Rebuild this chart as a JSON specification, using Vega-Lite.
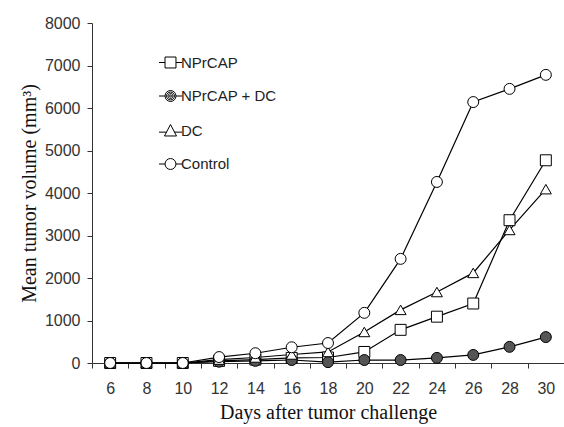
{
  "$schema": "https://vega.github.io/schema/vega-lite/v6.json",
  "autosize": "none",
  "width": 472,
  "height": 340,
  "padding": {"left": 92, "top": 23, "right": 0, "bottom": 64},
  "background": "white",
  "config": {"view": {"stroke": null}},
  "data": {"values": [
    {"day": 6, "series": "NPrCAP", "v": 0}, {"day": 8, "series": "NPrCAP", "v": 0}, {"day": 10, "series": "NPrCAP", "v": 0},
    {"day": 12, "series": "NPrCAP", "v": 50}, {"day": 14, "series": "NPrCAP", "v": 80}, {"day": 16, "series": "NPrCAP", "v": 120},
    {"day": 18, "series": "NPrCAP", "v": 130}, {"day": 20, "series": "NPrCAP", "v": 260}, {"day": 22, "series": "NPrCAP", "v": 780},
    {"day": 24, "series": "NPrCAP", "v": 1090}, {"day": 26, "series": "NPrCAP", "v": 1400}, {"day": 28, "series": "NPrCAP", "v": 3360},
    {"day": 30, "series": "NPrCAP", "v": 4770},
    {"day": 6, "series": "NPrCAP + DC", "v": 0}, {"day": 8, "series": "NPrCAP + DC", "v": 0}, {"day": 10, "series": "NPrCAP + DC", "v": 0},
    {"day": 12, "series": "NPrCAP + DC", "v": 30}, {"day": 14, "series": "NPrCAP + DC", "v": 50}, {"day": 16, "series": "NPrCAP + DC", "v": 70},
    {"day": 18, "series": "NPrCAP + DC", "v": 20}, {"day": 20, "series": "NPrCAP + DC", "v": 70}, {"day": 22, "series": "NPrCAP + DC", "v": 70},
    {"day": 24, "series": "NPrCAP + DC", "v": 120}, {"day": 26, "series": "NPrCAP + DC", "v": 190}, {"day": 28, "series": "NPrCAP + DC", "v": 380},
    {"day": 30, "series": "NPrCAP + DC", "v": 610},
    {"day": 6, "series": "DC", "v": 0}, {"day": 8, "series": "DC", "v": 0}, {"day": 10, "series": "DC", "v": 0},
    {"day": 12, "series": "DC", "v": 80}, {"day": 14, "series": "DC", "v": 130}, {"day": 16, "series": "DC", "v": 200},
    {"day": 18, "series": "DC", "v": 260}, {"day": 20, "series": "DC", "v": 730}, {"day": 22, "series": "DC", "v": 1250},
    {"day": 24, "series": "DC", "v": 1670}, {"day": 26, "series": "DC", "v": 2120}, {"day": 28, "series": "DC", "v": 3130},
    {"day": 30, "series": "DC", "v": 4090},
    {"day": 6, "series": "Control", "v": 0}, {"day": 8, "series": "Control", "v": 0}, {"day": 10, "series": "Control", "v": 0},
    {"day": 12, "series": "Control", "v": 140}, {"day": 14, "series": "Control", "v": 230}, {"day": 16, "series": "Control", "v": 370},
    {"day": 18, "series": "Control", "v": 470}, {"day": 20, "series": "Control", "v": 1180}, {"day": 22, "series": "Control", "v": 2450},
    {"day": 24, "series": "Control", "v": 4260}, {"day": 26, "series": "Control", "v": 6140}, {"day": 28, "series": "Control", "v": 6450},
    {"day": 30, "series": "Control", "v": 6780}
  ]},
  "encoding": {
    "x": {"field": "day", "type": "quantitative",
      "scale": {"domain": [5, 31], "nice": false, "zero": false},
      "axis": {"values": [6, 8, 10, 12, 14, 16, 18, 20, 22, 24, 26, 28, 30], "grid": false,
        "title": "Days after tumor challenge", "titleFont": "Liberation Serif", "titleFontSize": 20, "titleFontWeight": "normal", "titleColor": "#111", "titlePadding": 6,
        "labelFont": "Liberation Sans", "labelFontSize": 16, "labelColor": "#333", "labelPadding": 12,
        "tickOffset": -18.15, "labelOffset": 18.15, "tickSize": 5, "tickColor": "#333", "domainColor": "#333"}},
    "y": {"field": "v", "type": "quantitative",
      "scale": {"domain": [0, 8000], "nice": false},
      "axis": {"values": [0, 1000, 2000, 3000, 4000, 5000, 6000, 7000, 8000], "grid": false, "format": "d",
        "title": "Mean tumor volume (mm³)", "titleFont": "Liberation Serif", "titleFontSize": 20, "titleFontWeight": "normal", "titleColor": "#111", "titlePadding": 5,
        "labelFont": "Liberation Sans", "labelFontSize": 16, "labelColor": "#333", "labelPadding": 7,
        "tickSize": 5, "tickColor": "#333", "domainColor": "#333"}}
  },
  "layer": [
    {"mark": {"type": "line", "color": "black", "strokeWidth": 1.2},
     "encoding": {"detail": {"field": "series"}}},
    {"mark": {"type": "point", "filled": true, "stroke": "black", "strokeWidth": 1, "size": 120, "opacity": 1},
     "encoding": {
       "shape": {"condition": [
           {"test": "datum.series === 'NPrCAP'", "value": "square"},
           {"test": "datum.series === 'DC'", "value": "triangle-up"}],
         "value": "circle"},
       "fill": {"condition": {"test": "datum.series === 'NPrCAP + DC'", "value": "#555"}, "value": "white"}
     }},
    {"mark": {"type": "point", "filled": true, "stroke": "black", "strokeWidth": 1, "size": 120, "opacity": 0},
     "encoding": {
       "shape": {"field": "series", "title": null,
         "scale": {"domain": ["NPrCAP", "NPrCAP + DC", "DC", "Control"],
           "range": [
             "M-2.1,0H-1M1,0H2.1M-1,-1H1V1H-1Z",
             "M-2.1,0H-1M1,0H2.1M1,0A1,1,0,1,1,-1,0A1,1,0,1,1,1,0ZM0.72,0A0.72,0.72,0,1,1,-0.72,0A0.72,0.72,0,1,1,0.72,0ZM0.45,0A0.45,0.45,0,1,1,-0.45,0A0.45,0.45,0,1,1,0.45,0ZM0.18,0A0.18,0.18,0,1,1,-0.18,0A0.18,0.18,0,1,1,0.18,0Z",
             "M-2.1,0.3H-0.7M0.7,0.3H2.1M0,-1.1L1.1,1H-1.1Z",
             "M-2.1,0H-1M1,0H2.1M1,0A1,1,0,1,1,-1,0A1,1,0,1,1,1,0Z"]},
         "legend": {"orient": "none", "legendX": 71, "legendY": 32, "title": null,
           "labelFont": "Liberation Sans", "labelFontSize": 15, "labelColor": "#222", "labelOffset": 3,
           "symbolSize": 120, "symbolStrokeColor": "black", "symbolStrokeWidth": 1, "rowPadding": 17.5,
           "encoding": {"symbols": {
             "stroke": {"value": "black"},
             "strokeWidth": {"value": 1},
             "opacity": {"value": 1}}}}},
       "fill": {"field": "series", "title": null,
         "scale": {"domain": ["NPrCAP", "NPrCAP + DC", "DC", "Control"], "range": ["white", "#555", "white", "white"]},
         "legend": {"orient": "none", "legendX": 71, "legendY": 32, "title": null,
           "labelFont": "Liberation Sans", "labelFontSize": 15, "labelColor": "#222", "labelOffset": 3,
           "symbolSize": 120, "symbolStrokeColor": "black", "symbolStrokeWidth": 1, "rowPadding": 17.5,
           "encoding": {"symbols": {
             "stroke": {"value": "black"},
             "strokeWidth": {"value": 1},
             "opacity": {"value": 1}}}}}
     }}
  ]
}
